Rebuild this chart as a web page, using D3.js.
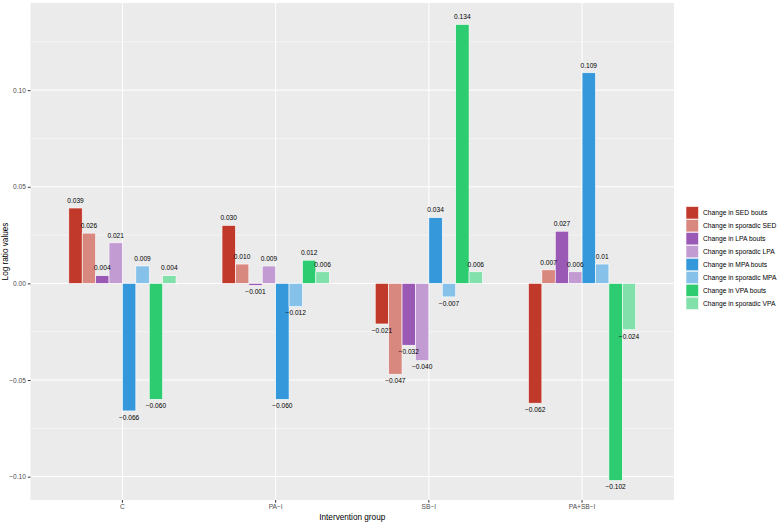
<!DOCTYPE html>
<html>
<head>
<meta charset="utf-8">
<script src="https://cdn.jsdelivr.net/npm/d3@7"></script>
<style>
  body { margin: 0; background: #fff; }
  text { font-family: "Liberation Sans", Arial, Helvetica, sans-serif; }
</style>
</head>
<body>
<div id="plot"></div>
<script>
var groups = ["C", "PA\u2212I", "SB\u2212I", "PA+SB\u2212I"]
var series = [
  "Change in SED bouts", "Change in sporadic SED",
  "Change in LPA bouts", "Change in sporadic LPA",
  "Change in MPA bouts", "Change in sporadic MPA",
  "Change in VPA bouts", "Change in sporadic VPA"
]
var colors = ["#c0392b", "#d98880", "#9b59b6", "#c39bd3", "#3498db", "#85c1e9", "#2ecc71", "#82e0aa"]

// one array per group, in series order
var valuesC = [0.039, 0.026, 0.004, 0.021, -0.066, 0.009, -0.060, 0.004]
var valuesPA = [0.030, 0.010, -0.001, 0.009, -0.060, -0.012, 0.012, 0.006]
var valuesSB = [-0.021, -0.047, -0.032, -0.040, 0.034, -0.007, 0.134, 0.006]
var valuesPASB = [-0.062, 0.007, 0.027, 0.006, 0.109, 0.01, -0.102, -0.024]
var labelsPASB = ["-0.062", "0.007", "0.027", "0.006", "0.109", "0.01", "-0.102", "-0.024"]

var yTicks = [-0.10, -0.05, 0.00, 0.05, 0.10]
var yMinor = [-0.075, -0.025, 0.025, 0.075, 0.125]

var allValues = [valuesC, valuesPA, valuesSB, valuesPASB]
var data = []
allValues.forEach(function (vals, gi) {
  vals.forEach(function (v, si) {
    var lab = gi == 3 ? labelsPASB[si] : d3.format(".3f")(v)
    data.push({ group: groups[gi], series: series[si], value: v, label: lab.replace("-", "\u2212") })
  })
})

var W = 780, H = 523
var panel = { left: 30.5, right: 674, top: 3, bottom: 500 }

var svg = d3.select("#plot").append("svg")
  .attr("width", W).attr("height", H)

// expansion 0.6 of a band on each side
var bandW = (panel.right - panel.left) / 4.2
var x = d3.scaleBand()
  .domain(groups)
  .range([panel.left + 0.6 * bandW - bandW / 2, panel.right - 0.6 * bandW + bandW / 2])
  .padding(0)

var xs = d3.scaleBand()
  .domain(series)
  .range([-bandW * 0.35, bandW * 0.35])

var y = d3.scaleLinear()
  .domain([-0.1121, 0.1451])
  .range([panel.bottom, panel.top])

// panel background
svg.append("rect")
  .attr("x", panel.left).attr("y", panel.top)
  .attr("width", panel.right - panel.left).attr("height", panel.bottom - panel.top)
  .attr("fill", "#ebebeb")

svg.selectAll(".minor")
  .data(yMinor)
  .enter().append("line")
  .attr("x1", panel.left).attr("x2", panel.right)
  .attr("y1", d => y(d)).attr("y2", d => y(d))
  .attr("stroke", "#fff").attr("stroke-width", 0.5)

svg.selectAll(".major")
  .data(yTicks)
  .enter().append("line")
  .attr("x1", panel.left).attr("x2", panel.right)
  .attr("y1", d => y(d)).attr("y2", d => y(d))
  .attr("stroke", "#fff").attr("stroke-width", 1)

svg.selectAll(".vgrid")
  .data(groups)
  .enter().append("line")
  .attr("x1", d => x(d) + x.bandwidth() / 2).attr("x2", d => x(d) + x.bandwidth() / 2)
  .attr("y1", panel.top).attr("y2", panel.bottom)
  .attr("stroke", "#fff").attr("stroke-width", 1)

// bars
svg.selectAll(".bar")
  .data(data)
  .enter().append("rect")
  .attr("class", "bar")
  .attr("x", d => x(d.group) + x.bandwidth() / 2 + xs(d.series))
  .attr("width", xs.bandwidth())
  .attr("y", d => Math.min(y(d.value), y(0)))
  .attr("height", d => Math.abs(y(d.value) - y(0)))
  .attr("fill", d => colors[series.indexOf(d.series)])
  .attr("stroke", "#fff").attr("stroke-width", 0.6)

svg.selectAll(".lab")
  .data(data)
  .enter().append("text")
  .attr("x", d => x(d.group) + x.bandwidth() / 2 + xs(d.series) + xs.bandwidth() / 2)
  .attr("y", d => d.value >= 0 ? y(d.value) - 7.5 : y(d.value) + 6.5)
  .attr("dy", "0.35em")
  .attr("text-anchor", "middle")
  .attr("font-size", 6.6)
  .attr("fill", "#000")
  .text(d => d.label)

// y axis
var yAxis = svg.append("g")
  .attr("transform", "translate(" + panel.left + ",0)")
  .call(d3.axisLeft(y).tickValues(yTicks).tickSize(2.7).tickPadding(2)
    .tickFormat(d => d3.format(".2f")(d).replace("-", "\u2212")))
yAxis.select(".domain").remove()
yAxis.selectAll("line").attr("stroke", "#333")
yAxis.selectAll("text").attr("font-size", 6.6).attr("fill", "#4d4d4d")
  .style("font-family", "'Liberation Sans', Arial, sans-serif")

// x axis
var xAxis = svg.append("g")
  .attr("transform", "translate(0," + panel.bottom + ")")
  .call(d3.axisBottom(x).tickSize(2.7).tickPadding(2))
xAxis.select(".domain").remove()
xAxis.selectAll("line").attr("stroke", "#333")
xAxis.selectAll("text").attr("font-size", 6.6).attr("fill", "#4d4d4d")
  .style("font-family", "'Liberation Sans', Arial, sans-serif")

svg.append("text")
  .attr("x", (panel.left + panel.right) / 2).attr("y", 520)
  .attr("text-anchor", "middle")
  .attr("font-size", 8.2)
  .text("Intervention group")

svg.append("text")
  .attr("transform", "translate(8," + ((panel.top + panel.bottom) / 2) + ") rotate(-90)")
  .attr("text-anchor", "middle")
  .attr("font-size", 8.2)
  .text("Log ratio values")

// legend
var legend = svg.append("g")
  .attr("transform", "translate(686,206.5)")
var rows = legend.selectAll(".row")
  .data(series)
  .enter().append("g")
  .attr("transform", (d, i) => "translate(0," + i * 12.95 + ")")
rows.append("rect")
  .attr("width", 12.5).attr("height", 12.5)
  .attr("fill", (d, i) => colors[i])
  .attr("stroke", "#fff").attr("stroke-width", 0.6)
rows.append("text")
  .attr("x", 17).attr("y", 6.5)
  .attr("dy", "0.35em")
  .attr("font-size", 6.7)
  .text(d => d)
</script>
</body>
</html>
